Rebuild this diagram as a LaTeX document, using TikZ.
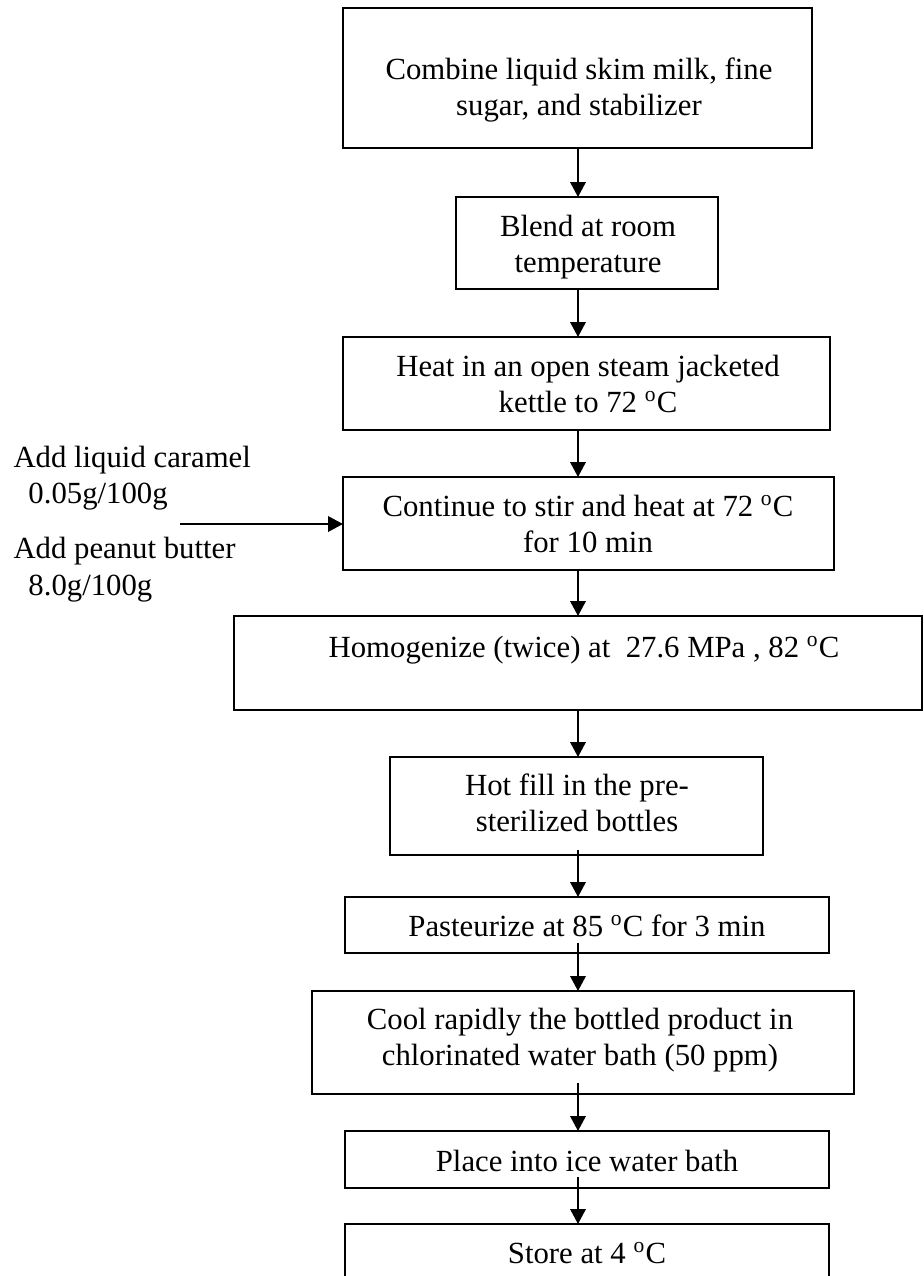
\documentclass[tikz,border=0pt]{standalone}
\usepackage{fontspec}
\setmainfont{Liberation Serif}
\usetikzlibrary{arrows.meta,fit}
\tikzset{
  box/.style={draw=black, line width=0.8pt, inner sep=0pt, outer sep=0pt, fill=none},
  txt/.style={anchor=base, inner sep=0pt, font=\fontsize{12.3pt}{14.4pt}\selectfont},
  sidetxt/.style={anchor=base west, inner sep=0pt, font=\fontsize{12.3pt}{14.4pt}\selectfont},
  arr/.style={draw=black, line width=0.8pt, -{Triangle[length=6pt,width=6.2pt]}}
}
\newcommand{\degC}{\textsuperscript{o}C}
\begin{document}
\begin{tikzpicture}[x=0.4pt,y=-0.4pt]
\useasboundingbox (0,0) rectangle (923,1276);
\clip (0,0) rectangle (923,1276);
% axis for the vertical connectors
\coordinate (ax) at (578,0);
% box corners
\coordinate (b1a) at (343,8);    \coordinate (b1b) at (812,148);
\coordinate (b2a) at (456,197);  \coordinate (b2b) at (718,289);
\coordinate (b3a) at (343,337);  \coordinate (b3b) at (830,430);
\coordinate (b4a) at (343,477);  \coordinate (b4b) at (834,570);
\coordinate (b5a) at (234,616);  \coordinate (b5b) at (922,710);
\coordinate (b6a) at (390,757);  \coordinate (b6b) at (763,855);
\coordinate (b7a) at (345,897);  \coordinate (b7b) at (829,953);
\coordinate (b8a) at (312,991);  \coordinate (b8b) at (854,1094);
\coordinate (b9a) at (345,1131); \coordinate (b9b) at (829,1188);
\coordinate (b10a) at (345,1224); \coordinate (b10b) at (829,1320);
% boxes
\node[box, fit=(b1a)(b1b)] (b1) {};
\node[box, fit=(b2a)(b2b)] (b2) {};
\node[box, fit=(b3a)(b3b)] (b3) {};
\node[box, fit=(b4a)(b4b)] (b4) {};
\node[box, fit=(b5a)(b5b)] (b5) {};
\node[box, fit=(b6a)(b6b)] (b6) {};
\node[box, fit=(b7a)(b7b)] (b7) {};
\node[box, fit=(b8a)(b8b)] (b8) {};
\node[box, fit=(b9a)(b9b)] (b9) {};
\node[box, fit=(b10a)(b10b)] (b10) {};
% box texts
\node[txt] (t1a) at (579,79) {Combine liquid skim milk, fine};
\node[txt] (t1b) at (579,115) {sugar, and stabilizer};
\node[txt] (t2a) at (588,236) {Blend at room};
\node[txt] (t2b) at (588,272) {temperature};
\node[txt] (t3a) at (588,376) {Heat in an open steam jacketed};
\node[txt] (t3b) at (588,412) {kettle to 72 \degC};
\node[txt] (t4a) at (588,516) {Continue to stir and heat at 72 \degC};
\node[txt] (t4b) at (588,552) {for 10 min};
\node[txt] (t5) at (584,657) {Homogenize (twice) at\ \ 27.6 MPa , 82 \degC};
\node[txt] (t6a) at (577,795) {Hot fill in the pre-};
\node[txt] (t6b) at (577,831) {sterilized bottles};
\node[txt] (t7) at (587,936) {Pasteurize at 85 \degC{} for 3 min};
\node[txt] (t8a) at (580,1029) {Cool rapidly the bottled product in};
\node[txt] (t8b) at (580,1065) {chlorinated water bath (50 ppm)};
\node[txt] (t9) at (587,1171) {Place into ice water bath};
\node[txt] (t10) at (587,1263) {Store at 4 \degC};
% side texts
\node[sidetxt] (s1) at (13,467) {Add liquid caramel};
\node[sidetxt] (s2) at (28,503) {0.05g/100g};
\node[sidetxt] (s3) at (13,558) {Add peanut butter};
\node[sidetxt] (s4) at (28,595) {8.0g/100g};
% connector start points that lie inside boxes
\coordinate (c6) at (578,850);
\coordinate (c7) at (578,943);
\coordinate (c8) at (578,1083);
\coordinate (c9) at (578,1177);
\coordinate (cin) at (180,524);
% connectors
\draw[arr] (b1.south -| ax) -- (b2.north -| ax);
\draw[arr] (b2.south -| ax) -- (b3.north -| ax);
\draw[arr] (b3.south -| ax) -- (b4.north -| ax);
\draw[arr] (b4.south -| ax) -- (b5.north -| ax);
\draw[arr] (b5.south -| ax) -- (b6.north -| ax);
\draw[arr] (c6) -- (b7.north -| ax);
\draw[arr] (c7) -- (b8.north -| ax);
\draw[arr] (c8) -- (b9.north -| ax);
\draw[arr] (c9) -- (b10.north -| ax);
\draw[arr] (cin) -- (cin -| b4.west);
\end{tikzpicture}
\end{document}
